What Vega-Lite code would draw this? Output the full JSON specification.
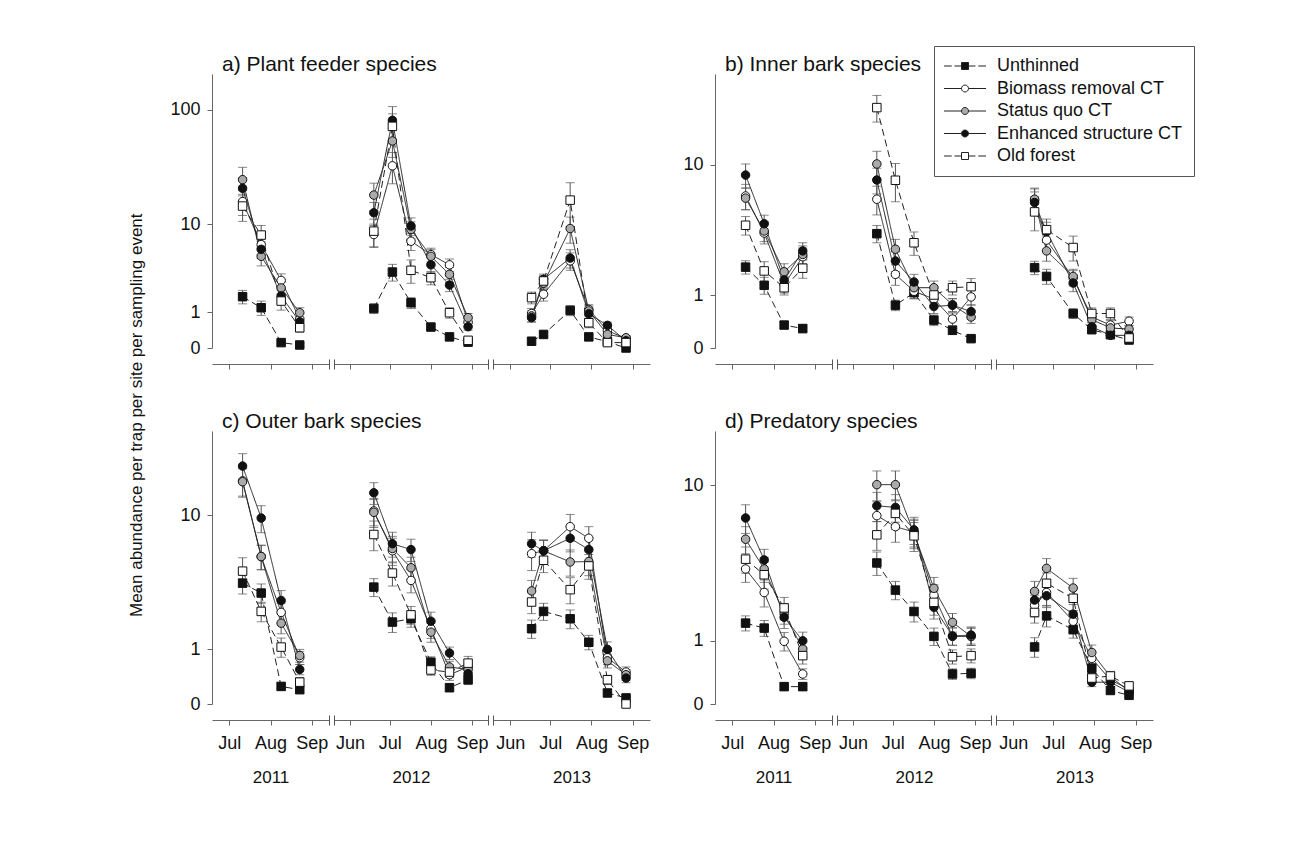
{
"$schema": "https://vega.github.io/schema/vega-lite/v6.json",
"padding": {"left": 127, "top": 45, "right": 5, "bottom": 5},
"background": "white",
"config": {
 "view": {"stroke": null},
 "font": "Liberation Sans",
 "axis": {"domainColor": "#666", "tickColor": "#666", "tickSize": 5, "labelFontSize": 18, "labelColor": "#111", "labelFont": "Liberation Sans", "titleFont": "Liberation Sans", "titleFontSize": 17, "titleFontWeight": "normal", "titleColor": "#111", "grid": false, "labelFlush": false, "labelOverlap": false, "labelPadding": 7},
 "title": {"font": "Liberation Sans", "fontWeight": "normal", "color": "#111"}
},
"datasets": {"d": [
{"p":"a","yr":2011,"d":192,"t":"U","m":1.7,"se":0.35},{"p":"a","yr":2011,"d":206,"t":"U","m":1.18,"se":0.3},{"p":"a","yr":2011,"d":221,"t":"U","m":0.11,"se":0.03},{"p":"a","yr":2011,"d":235,"t":"U","m":0.06,"se":0.03},
{"p":"a","yr":2011,"d":192,"t":"B","m":16,"se":4},{"p":"a","yr":2011,"d":206,"t":"B","m":6.4,"se":1.3},{"p":"a","yr":2011,"d":221,"t":"B","m":2.7,"se":0.5},{"p":"a","yr":2011,"d":235,"t":"B","m":0.75,"se":0.2},
{"p":"a","yr":2011,"d":192,"t":"S","m":25,"se":7},{"p":"a","yr":2011,"d":206,"t":"S","m":4.9,"se":1},{"p":"a","yr":2011,"d":221,"t":"S","m":2.2,"se":0.4},{"p":"a","yr":2011,"d":235,"t":"S","m":0.98,"se":0.2},
{"p":"a","yr":2011,"d":192,"t":"E","m":21,"se":5},{"p":"a","yr":2011,"d":206,"t":"E","m":5.75,"se":1.1},{"p":"a","yr":2011,"d":221,"t":"E","m":1.73,"se":0.35},{"p":"a","yr":2011,"d":235,"t":"E","m":0.66,"se":0.15},
{"p":"a","yr":2011,"d":192,"t":"O","m":14.6,"se":4},{"p":"a","yr":2011,"d":206,"t":"O","m":7.9,"se":1.8},{"p":"a","yr":2011,"d":221,"t":"O","m":1.48,"se":0.4},{"p":"a","yr":2011,"d":235,"t":"O","m":0.48,"se":0.12},
{"p":"a","yr":2012,"d":170,"t":"U","m":1.15,"se":0.2},{"p":"a","yr":2012,"d":184,"t":"U","m":3.35,"se":0.7},{"p":"a","yr":2012,"d":198,"t":"U","m":1.4,"se":0.25},{"p":"a","yr":2012,"d":213,"t":"U","m":0.5,"se":0.08},{"p":"a","yr":2012,"d":227,"t":"U","m":0.24,"se":0.05},{"p":"a","yr":2012,"d":241,"t":"U","m":0.12,"se":0.03},
{"p":"a","yr":2012,"d":170,"t":"B","m":8,"se":2},{"p":"a","yr":2012,"d":184,"t":"B","m":33,"se":10},{"p":"a","yr":2012,"d":198,"t":"B","m":6.9,"se":1.3},{"p":"a","yr":2012,"d":213,"t":"B","m":5.1,"se":0.8},{"p":"a","yr":2012,"d":227,"t":"B","m":4,"se":0.6},{"p":"a","yr":2012,"d":241,"t":"B","m":0.65,"se":0.12},
{"p":"a","yr":2012,"d":170,"t":"S","m":18.3,"se":5},{"p":"a","yr":2012,"d":184,"t":"S","m":54,"se":15},{"p":"a","yr":2012,"d":198,"t":"S","m":8.9,"se":1.6},{"p":"a","yr":2012,"d":213,"t":"S","m":4.9,"se":0.8},{"p":"a","yr":2012,"d":227,"t":"S","m":3.16,"se":0.6},{"p":"a","yr":2012,"d":241,"t":"S","m":0.8,"se":0.15},
{"p":"a","yr":2012,"d":170,"t":"E","m":12.7,"se":3},{"p":"a","yr":2012,"d":184,"t":"E","m":81,"se":25},{"p":"a","yr":2012,"d":198,"t":"E","m":9.6,"se":1.8},{"p":"a","yr":2012,"d":213,"t":"E","m":4,"se":0.7},{"p":"a","yr":2012,"d":227,"t":"E","m":2.38,"se":0.4},{"p":"a","yr":2012,"d":241,"t":"E","m":0.51,"se":0.1},
{"p":"a","yr":2012,"d":170,"t":"O","m":8.6,"se":2.5},{"p":"a","yr":2012,"d":184,"t":"O","m":72,"se":20},{"p":"a","yr":2012,"d":198,"t":"O","m":3.5,"se":1},{"p":"a","yr":2012,"d":213,"t":"O","m":2.9,"se":0.5},{"p":"a","yr":2012,"d":227,"t":"O","m":0.98,"se":0.2},{"p":"a","yr":2012,"d":241,"t":"O","m":0.16,"se":0.05},
{"p":"a","yr":2013,"d":168,"t":"U","m":0.14,"se":0.04},{"p":"a","yr":2013,"d":177,"t":"U","m":0.3,"se":0.05},{"p":"a","yr":2013,"d":197,"t":"U","m":1.07,"se":0.2},{"p":"a","yr":2013,"d":211,"t":"U","m":0.24,"se":0.05},{"p":"a","yr":2013,"d":225,"t":"U","m":0.13,"se":0.03},{"p":"a","yr":2013,"d":239,"t":"U","m":0,"se":0},
{"p":"a","yr":2013,"d":168,"t":"B","m":0.95,"se":0.2},{"p":"a","yr":2013,"d":177,"t":"B","m":1.83,"se":0.35},{"p":"a","yr":2013,"d":197,"t":"B","m":4.4,"se":0.9},{"p":"a","yr":2013,"d":211,"t":"B","m":1.11,"se":0.2},{"p":"a","yr":2013,"d":225,"t":"B","m":0.4,"se":0.08},{"p":"a","yr":2013,"d":239,"t":"B","m":0.2,"se":0.05},
{"p":"a","yr":2013,"d":168,"t":"S","m":0.86,"se":0.2},{"p":"a","yr":2013,"d":177,"t":"S","m":2.5,"se":0.4},{"p":"a","yr":2013,"d":197,"t":"S","m":9.1,"se":2.5},{"p":"a","yr":2013,"d":211,"t":"S","m":1.05,"se":0.2},{"p":"a","yr":2013,"d":225,"t":"S","m":0.3,"se":0.06},{"p":"a","yr":2013,"d":239,"t":"S","m":0.22,"se":0.05},
{"p":"a","yr":2013,"d":168,"t":"E","m":0.8,"se":0.15},{"p":"a","yr":2013,"d":177,"t":"E","m":2.78,"se":0.4},{"p":"a","yr":2013,"d":197,"t":"E","m":4.7,"se":1},{"p":"a","yr":2013,"d":211,"t":"E","m":0.94,"se":0.2},{"p":"a","yr":2013,"d":225,"t":"E","m":0.55,"se":0.1},{"p":"a","yr":2013,"d":239,"t":"E","m":0.15,"se":0.04},
{"p":"a","yr":2013,"d":168,"t":"O","m":1.65,"se":0.3},{"p":"a","yr":2013,"d":177,"t":"O","m":2.66,"se":0.4},{"p":"a","yr":2013,"d":197,"t":"O","m":16.5,"se":7},{"p":"a","yr":2013,"d":211,"t":"O","m":0.63,"se":0.15},{"p":"a","yr":2013,"d":225,"t":"O","m":0.11,"se":0.03},{"p":"a","yr":2013,"d":239,"t":"O","m":0.11,"se":0.03},

{"p":"b","yr":2011,"d":192,"t":"U","m":1.88,"se":0.25},{"p":"b","yr":2011,"d":206,"t":"U","m":1.27,"se":0.25},{"p":"b","yr":2011,"d":221,"t":"U","m":0.35,"se":0.06},{"p":"b","yr":2011,"d":235,"t":"U","m":0.29,"se":0.07},
{"p":"b","yr":2011,"d":192,"t":"B","m":6.3,"se":1.2},{"p":"b","yr":2011,"d":206,"t":"B","m":3.5,"se":0.6},{"p":"b","yr":2011,"d":221,"t":"B","m":1.3,"se":0.25},{"p":"b","yr":2011,"d":235,"t":"B","m":2.3,"se":0.4},
{"p":"b","yr":2011,"d":192,"t":"S","m":6.1,"se":1},{"p":"b","yr":2011,"d":206,"t":"S","m":3.62,"se":0.6},{"p":"b","yr":2011,"d":221,"t":"S","m":1.71,"se":0.3},{"p":"b","yr":2011,"d":235,"t":"S","m":2.4,"se":0.4},
{"p":"b","yr":2011,"d":192,"t":"E","m":8.6,"se":1.5},{"p":"b","yr":2011,"d":206,"t":"E","m":4.08,"se":0.6},{"p":"b","yr":2011,"d":221,"t":"E","m":1.43,"se":0.3},{"p":"b","yr":2011,"d":235,"t":"E","m":2.56,"se":0.4},
{"p":"b","yr":2011,"d":192,"t":"O","m":3.98,"se":0.6},{"p":"b","yr":2011,"d":206,"t":"O","m":1.74,"se":0.35},{"p":"b","yr":2011,"d":221,"t":"O","m":1.2,"se":0.2},{"p":"b","yr":2011,"d":235,"t":"O","m":1.84,"se":0.35},
{"p":"b","yr":2012,"d":170,"t":"U","m":3.46,"se":0.5},{"p":"b","yr":2012,"d":184,"t":"U","m":0.75,"se":0.12},{"p":"b","yr":2012,"d":198,"t":"U","m":1.06,"se":0.15},{"p":"b","yr":2012,"d":213,"t":"U","m":0.44,"se":0.1},{"p":"b","yr":2012,"d":227,"t":"U","m":0.26,"se":0.06},{"p":"b","yr":2012,"d":241,"t":"U","m":0.13,"se":0.03},
{"p":"b","yr":2012,"d":170,"t":"B","m":6,"se":1.3},{"p":"b","yr":2012,"d":184,"t":"B","m":1.62,"se":0.35},{"p":"b","yr":2012,"d":198,"t":"B","m":1.1,"se":0.2},{"p":"b","yr":2012,"d":213,"t":"B","m":0.9,"se":0.15},{"p":"b","yr":2012,"d":227,"t":"B","m":0.46,"se":0.12},{"p":"b","yr":2012,"d":241,"t":"B","m":0.95,"se":0.2},
{"p":"b","yr":2012,"d":170,"t":"S","m":10.1,"se":2},{"p":"b","yr":2012,"d":184,"t":"S","m":2.64,"se":0.5},{"p":"b","yr":2012,"d":198,"t":"S","m":1.2,"se":0.2},{"p":"b","yr":2012,"d":213,"t":"S","m":1.2,"se":0.2},{"p":"b","yr":2012,"d":227,"t":"S","m":0.76,"se":0.15},{"p":"b","yr":2012,"d":241,"t":"S","m":0.5,"se":0.12},
{"p":"b","yr":2012,"d":170,"t":"E","m":8,"se":1.5},{"p":"b","yr":2012,"d":184,"t":"E","m":2.12,"se":0.4},{"p":"b","yr":2012,"d":198,"t":"E","m":1.37,"se":0.25},{"p":"b","yr":2012,"d":213,"t":"E","m":0.72,"se":0.15},{"p":"b","yr":2012,"d":227,"t":"E","m":0.75,"se":0.15},{"p":"b","yr":2012,"d":241,"t":"E","m":0.61,"se":0.15},
{"p":"b","yr":2012,"d":170,"t":"O","m":22.2,"se":4},{"p":"b","yr":2012,"d":184,"t":"O","m":7.97,"se":2.2},{"p":"b","yr":2012,"d":198,"t":"O","m":2.96,"se":0.6},{"p":"b","yr":2012,"d":213,"t":"O","m":1,"se":0.2},{"p":"b","yr":2012,"d":227,"t":"O","m":1.2,"se":0.2},{"p":"b","yr":2012,"d":241,"t":"O","m":1.23,"se":0.25},
{"p":"b","yr":2013,"d":168,"t":"U","m":1.86,"se":0.25},{"p":"b","yr":2013,"d":177,"t":"U","m":1.55,"se":0.25},{"p":"b","yr":2013,"d":197,"t":"U","m":0.57,"se":0.1},{"p":"b","yr":2013,"d":211,"t":"U","m":0.27,"se":0.05},{"p":"b","yr":2013,"d":225,"t":"U","m":0.19,"se":0.05},{"p":"b","yr":2013,"d":239,"t":"U","m":0.11,"se":0.03},
{"p":"b","yr":2013,"d":168,"t":"B","m":5.9,"se":1.2},{"p":"b","yr":2013,"d":177,"t":"B","m":3.1,"se":0.5},{"p":"b","yr":2013,"d":197,"t":"B","m":1.5,"se":0.25},{"p":"b","yr":2013,"d":211,"t":"B","m":0.5,"se":0.1},{"p":"b","yr":2013,"d":225,"t":"B","m":0.35,"se":0.08},{"p":"b","yr":2013,"d":239,"t":"B","m":0.42,"se":0.08},
{"p":"b","yr":2013,"d":168,"t":"S","m":6,"se":1},{"p":"b","yr":2013,"d":177,"t":"S","m":2.56,"se":0.45},{"p":"b","yr":2013,"d":197,"t":"S","m":1.55,"se":0.25},{"p":"b","yr":2013,"d":211,"t":"S","m":0.45,"se":0.1},{"p":"b","yr":2013,"d":225,"t":"S","m":0.3,"se":0.07},{"p":"b","yr":2013,"d":239,"t":"S","m":0.28,"se":0.06},
{"p":"b","yr":2013,"d":168,"t":"E","m":5.7,"se":1},{"p":"b","yr":2013,"d":177,"t":"E","m":3.58,"se":0.6},{"p":"b","yr":2013,"d":197,"t":"E","m":1.34,"se":0.25},{"p":"b","yr":2013,"d":211,"t":"E","m":0.32,"se":0.07},{"p":"b","yr":2013,"d":225,"t":"E","m":0.18,"se":0.05},{"p":"b","yr":2013,"d":239,"t":"E","m":0.18,"se":0.05},
{"p":"b","yr":2013,"d":168,"t":"O","m":4.93,"se":1.3},{"p":"b","yr":2013,"d":177,"t":"O","m":3.7,"se":0.7},{"p":"b","yr":2013,"d":197,"t":"O","m":2.72,"se":0.6},{"p":"b","yr":2013,"d":211,"t":"O","m":0.57,"se":0.12},{"p":"b","yr":2013,"d":225,"t":"O","m":0.57,"se":0.12},{"p":"b","yr":2013,"d":239,"t":"O","m":0.14,"se":0.04},

{"p":"c","yr":2011,"d":192,"t":"U","m":3.64,"se":0.6},{"p":"c","yr":2011,"d":206,"t":"U","m":3.09,"se":0.5},{"p":"c","yr":2011,"d":221,"t":"U","m":0.25,"se":0.06},{"p":"c","yr":2011,"d":235,"t":"U","m":0.2,"se":0.06},
{"p":"c","yr":2011,"d":192,"t":"B","m":16,"se":3},{"p":"c","yr":2011,"d":206,"t":"B","m":5.5,"se":1},{"p":"c","yr":2011,"d":221,"t":"B","m":2.2,"se":0.4},{"p":"c","yr":2011,"d":235,"t":"B","m":0.8,"se":0.15},
{"p":"c","yr":2011,"d":192,"t":"S","m":15.8,"se":3},{"p":"c","yr":2011,"d":206,"t":"S","m":5.5,"se":1},{"p":"c","yr":2011,"d":221,"t":"S","m":1.79,"se":0.35},{"p":"c","yr":2011,"d":235,"t":"S","m":0.85,"se":0.15},
{"p":"c","yr":2011,"d":192,"t":"E","m":19.5,"se":3.5},{"p":"c","yr":2011,"d":206,"t":"E","m":9.6,"se":1.8},{"p":"c","yr":2011,"d":221,"t":"E","m":2.72,"se":0.5},{"p":"c","yr":2011,"d":235,"t":"E","m":0.55,"se":0.1},
{"p":"c","yr":2011,"d":192,"t":"O","m":4.4,"se":1},{"p":"c","yr":2011,"d":206,"t":"O","m":2.24,"se":0.4},{"p":"c","yr":2011,"d":221,"t":"O","m":1.06,"se":0.25},{"p":"c","yr":2011,"d":235,"t":"O","m":0.32,"se":0.08},
{"p":"c","yr":2012,"d":170,"t":"U","m":3.41,"se":0.5},{"p":"c","yr":2012,"d":184,"t":"U","m":1.83,"se":0.35},{"p":"c","yr":2012,"d":198,"t":"U","m":1.95,"se":0.3},{"p":"c","yr":2012,"d":213,"t":"U","m":0.7,"se":0.12},{"p":"c","yr":2012,"d":227,"t":"U","m":0.23,"se":0.06},{"p":"c","yr":2012,"d":241,"t":"U","m":0.36,"se":0.08},
{"p":"c","yr":2012,"d":170,"t":"B","m":10.6,"se":2},{"p":"c","yr":2012,"d":184,"t":"B","m":6,"se":1.2},{"p":"c","yr":2012,"d":198,"t":"B","m":3.8,"se":0.7},{"p":"c","yr":2012,"d":213,"t":"B","m":1.6,"se":0.3},{"p":"c","yr":2012,"d":227,"t":"B","m":0.45,"se":0.1},{"p":"c","yr":2012,"d":241,"t":"B","m":0.6,"se":0.12},
{"p":"c","yr":2012,"d":170,"t":"S","m":10.4,"se":2},{"p":"c","yr":2012,"d":184,"t":"S","m":6.2,"se":1.2},{"p":"c","yr":2012,"d":198,"t":"S","m":4.64,"se":0.8},{"p":"c","yr":2012,"d":213,"t":"S","m":1.49,"se":0.3},{"p":"c","yr":2012,"d":227,"t":"S","m":0.6,"se":0.12},{"p":"c","yr":2012,"d":241,"t":"S","m":0.55,"se":0.12},
{"p":"c","yr":2012,"d":170,"t":"E","m":13.6,"se":2},{"p":"c","yr":2012,"d":184,"t":"E","m":6.65,"se":1.2},{"p":"c","yr":2012,"d":198,"t":"E","m":6.1,"se":1},{"p":"c","yr":2012,"d":213,"t":"E","m":1.86,"se":0.35},{"p":"c","yr":2012,"d":227,"t":"E","m":0.91,"se":0.15},{"p":"c","yr":2012,"d":241,"t":"E","m":0.47,"se":0.1},
{"p":"c","yr":2012,"d":170,"t":"O","m":7.6,"se":1.6},{"p":"c","yr":2012,"d":184,"t":"O","m":4.27,"se":0.8},{"p":"c","yr":2012,"d":198,"t":"O","m":2.1,"se":0.35},{"p":"c","yr":2012,"d":213,"t":"O","m":0.54,"se":0.1},{"p":"c","yr":2012,"d":227,"t":"O","m":0.5,"se":0.1},{"p":"c","yr":2012,"d":241,"t":"O","m":0.68,"se":0.15},
{"p":"c","yr":2013,"d":168,"t":"U","m":1.6,"se":0.3},{"p":"c","yr":2013,"d":177,"t":"U","m":2.24,"se":0.35},{"p":"c","yr":2013,"d":197,"t":"U","m":1.95,"se":0.35},{"p":"c","yr":2013,"d":211,"t":"U","m":1.19,"se":0.2},{"p":"c","yr":2013,"d":225,"t":"U","m":0.15,"se":0.05},{"p":"c","yr":2013,"d":239,"t":"U","m":0.08,"se":0.03},
{"p":"c","yr":2013,"d":168,"t":"B","m":5.74,"se":1.3},{"p":"c","yr":2013,"d":177,"t":"B","m":6,"se":1},{"p":"c","yr":2013,"d":197,"t":"B","m":8.5,"se":1.6},{"p":"c","yr":2013,"d":211,"t":"B","m":7.2,"se":1.3},{"p":"c","yr":2013,"d":225,"t":"B","m":0.8,"se":0.15},{"p":"c","yr":2013,"d":239,"t":"B","m":0.5,"se":0.1},
{"p":"c","yr":2013,"d":168,"t":"S","m":3.2,"se":0.6},{"p":"c","yr":2013,"d":177,"t":"S","m":6,"se":1},{"p":"c","yr":2013,"d":197,"t":"S","m":5.07,"se":1},{"p":"c","yr":2013,"d":211,"t":"S","m":5.1,"se":1},{"p":"c","yr":2013,"d":225,"t":"S","m":0.73,"se":0.15},{"p":"c","yr":2013,"d":239,"t":"S","m":0.45,"se":0.1},
{"p":"c","yr":2013,"d":168,"t":"E","m":6.65,"se":1.2},{"p":"c","yr":2013,"d":177,"t":"E","m":6,"se":1},{"p":"c","yr":2013,"d":197,"t":"E","m":7.2,"se":1.3},{"p":"c","yr":2013,"d":211,"t":"E","m":6.1,"se":1.1},{"p":"c","yr":2013,"d":225,"t":"E","m":1,"se":0.2},{"p":"c","yr":2013,"d":239,"t":"E","m":0.39,"se":0.08},
{"p":"c","yr":2013,"d":168,"t":"O","m":2.65,"se":0.5},{"p":"c","yr":2013,"d":177,"t":"O","m":5.2,"se":0.9},{"p":"c","yr":2013,"d":197,"t":"O","m":3.27,"se":0.7},{"p":"c","yr":2013,"d":211,"t":"O","m":4.77,"se":0.9},{"p":"c","yr":2013,"d":225,"t":"O","m":0.36,"se":0.08},{"p":"c","yr":2013,"d":239,"t":"O","m":0,"se":0},

{"p":"d","yr":2011,"d":192,"t":"U","m":1.43,"se":0.2},{"p":"d","yr":2011,"d":206,"t":"U","m":1.3,"se":0.2},{"p":"d","yr":2011,"d":221,"t":"U","m":0.21,"se":0.05},{"p":"d","yr":2011,"d":235,"t":"U","m":0.21,"se":0.05},
{"p":"d","yr":2011,"d":192,"t":"B","m":3.4,"se":0.6},{"p":"d","yr":2011,"d":206,"t":"B","m":2.4,"se":0.5},{"p":"d","yr":2011,"d":221,"t":"B","m":0.99,"se":0.2},{"p":"d","yr":2011,"d":235,"t":"B","m":0.39,"se":0.08},
{"p":"d","yr":2011,"d":192,"t":"S","m":5.1,"se":0.9},{"p":"d","yr":2011,"d":206,"t":"S","m":3.4,"se":0.6},{"p":"d","yr":2011,"d":221,"t":"S","m":1.7,"se":0.3},{"p":"d","yr":2011,"d":235,"t":"S","m":0.83,"se":0.15},
{"p":"d","yr":2011,"d":192,"t":"E","m":6.7,"se":1.2},{"p":"d","yr":2011,"d":206,"t":"E","m":3.86,"se":0.6},{"p":"d","yr":2011,"d":221,"t":"E","m":1.59,"se":0.3},{"p":"d","yr":2011,"d":235,"t":"E","m":1,"se":0.2},
{"p":"d","yr":2011,"d":192,"t":"O","m":3.9,"se":0.7},{"p":"d","yr":2011,"d":206,"t":"O","m":3.13,"se":0.6},{"p":"d","yr":2011,"d":221,"t":"O","m":1.87,"se":0.35},{"p":"d","yr":2011,"d":235,"t":"O","m":0.7,"se":0.15},
{"p":"d","yr":2012,"d":170,"t":"U","m":3.7,"se":0.6},{"p":"d","yr":2012,"d":184,"t":"U","m":2.49,"se":0.35},{"p":"d","yr":2012,"d":198,"t":"U","m":1.76,"se":0.3},{"p":"d","yr":2012,"d":213,"t":"U","m":1.1,"se":0.2},{"p":"d","yr":2012,"d":227,"t":"U","m":0.39,"se":0.08},{"p":"d","yr":2012,"d":241,"t":"U","m":0.4,"se":0.08},
{"p":"d","yr":2012,"d":170,"t":"B","m":6.9,"se":1.3},{"p":"d","yr":2012,"d":184,"t":"B","m":6,"se":1.1},{"p":"d","yr":2012,"d":198,"t":"B","m":5.6,"se":1},{"p":"d","yr":2012,"d":213,"t":"B","m":2.3,"se":0.4},{"p":"d","yr":2012,"d":227,"t":"B","m":1.1,"se":0.2},{"p":"d","yr":2012,"d":241,"t":"B","m":1.1,"se":0.2},
{"p":"d","yr":2012,"d":170,"t":"S","m":10.1,"se":1.8},{"p":"d","yr":2012,"d":184,"t":"S","m":10.1,"se":1.8},{"p":"d","yr":2012,"d":198,"t":"S","m":5.5,"se":1},{"p":"d","yr":2012,"d":213,"t":"S","m":2.56,"se":0.45},{"p":"d","yr":2012,"d":227,"t":"S","m":1.45,"se":0.25},{"p":"d","yr":2012,"d":241,"t":"S","m":1.1,"se":0.2},
{"p":"d","yr":2012,"d":170,"t":"E","m":7.8,"se":1.4},{"p":"d","yr":2012,"d":184,"t":"E","m":7.65,"se":1.3},{"p":"d","yr":2012,"d":198,"t":"E","m":5.76,"se":1},{"p":"d","yr":2012,"d":213,"t":"E","m":1.89,"se":0.35},{"p":"d","yr":2012,"d":227,"t":"E","m":1.11,"se":0.2},{"p":"d","yr":2012,"d":241,"t":"E","m":1.13,"se":0.2},
{"p":"d","yr":2012,"d":170,"t":"O","m":5.4,"se":1},{"p":"d","yr":2012,"d":184,"t":"O","m":7.1,"se":1.3},{"p":"d","yr":2012,"d":198,"t":"O","m":5.33,"se":1},{"p":"d","yr":2012,"d":213,"t":"O","m":2.05,"se":0.4},{"p":"d","yr":2012,"d":227,"t":"O","m":0.68,"se":0.13},{"p":"d","yr":2012,"d":241,"t":"O","m":0.7,"se":0.13},
{"p":"d","yr":2013,"d":168,"t":"U","m":0.87,"se":0.2},{"p":"d","yr":2013,"d":177,"t":"U","m":1.63,"se":0.3},{"p":"d","yr":2013,"d":197,"t":"U","m":1.26,"se":0.2},{"p":"d","yr":2013,"d":211,"t":"U","m":0.48,"se":0.08},{"p":"d","yr":2013,"d":225,"t":"U","m":0.16,"se":0.04},{"p":"d","yr":2013,"d":239,"t":"U","m":0.1,"se":0.03},
{"p":"d","yr":2013,"d":168,"t":"B","m":1.95,"se":0.35},{"p":"d","yr":2013,"d":177,"t":"B","m":2.4,"se":0.45},{"p":"d","yr":2013,"d":197,"t":"B","m":1.48,"se":0.3},{"p":"d","yr":2013,"d":211,"t":"B","m":0.65,"se":0.12},{"p":"d","yr":2013,"d":225,"t":"B","m":0.3,"se":0.06},{"p":"d","yr":2013,"d":239,"t":"B","m":0.18,"se":0.05},
{"p":"d","yr":2013,"d":168,"t":"S","m":2.44,"se":0.4},{"p":"d","yr":2013,"d":177,"t":"S","m":3.43,"se":0.5},{"p":"d","yr":2013,"d":197,"t":"S","m":2.57,"se":0.4},{"p":"d","yr":2013,"d":211,"t":"S","m":0.76,"se":0.15},{"p":"d","yr":2013,"d":225,"t":"S","m":0.35,"se":0.07},{"p":"d","yr":2013,"d":239,"t":"S","m":0.15,"se":0.04},
{"p":"d","yr":2013,"d":168,"t":"E","m":2.13,"se":0.35},{"p":"d","yr":2013,"d":177,"t":"E","m":2.28,"se":0.4},{"p":"d","yr":2013,"d":197,"t":"E","m":1.68,"se":0.3},{"p":"d","yr":2013,"d":211,"t":"E","m":0.27,"se":0.06},{"p":"d","yr":2013,"d":225,"t":"E","m":0.27,"se":0.06},{"p":"d","yr":2013,"d":239,"t":"E","m":0.14,"se":0.04},
{"p":"d","yr":2013,"d":168,"t":"O","m":1.73,"se":0.3},{"p":"d","yr":2013,"d":177,"t":"O","m":2.76,"se":0.45},{"p":"d","yr":2013,"d":197,"t":"O","m":2.19,"se":0.4},{"p":"d","yr":2013,"d":211,"t":"O","m":0.33,"se":0.07},{"p":"d","yr":2013,"d":225,"t":"O","m":0.36,"se":0.07},{"p":"d","yr":2013,"d":239,"t":"O","m":0.22,"se":0.05}
]},
"data": {"name": "d"},
"title": {"text": "Mean abundance per trap per site per sampling event", "orient": "left", "anchor": "middle", "fontSize": 17, "offset": 22},
"spacing": 41,
"vconcat": [
{"spacing": 21, "hconcat": [
 {"title": {"text": "a) Plant feeder species", "anchor": "start", "dx": 54, "fontSize": 21, "offset": -1}, "spacing": 3, "hconcat": [
  {"width": 117, "height": 274, "transform": [{"filter": "datum.p=='a' && datum.yr==2011"}], "resolve": {"axis": {"x": "independent"}},
   "encoding": {"y": {"field": "m", "type": "quantitative", "scale": {"type": "symlog", "constant": 1, "domain": [0, 200], "nice": false, "zero": false}, "axis": {"values": [0, 1, 10, 100], "format": "d", "title": null, "minExtent": 44, "maxExtent": 44}}},
   "layer": [
    {"mark": {"type": "errorbar", "ticks": true, "size": 9, "thickness": 1, "color": "#555"}, "encoding": {"x": {"field": "d", "type": "quantitative", "scale": {"domain": [169, 257], "nice": false, "zero": false}, "axis": {"orient": "bottom", "values": [182, 213, 244], "labels": false, "title": null, "offset": 16}}, "yError": {"field": "se"}}},
    {"mark": {"type": "line", "color": "#222", "strokeWidth": 1}, "encoding": {"x": {"field": "d", "type": "quantitative", "axis": null}, "detail": {"field": "t"}, "strokeDash": {"field": "t", "type": "nominal", "scale": {"domain": ["U","B","S","E","O"], "range": [[7,4],[1,0],[1,0],[1,0],[7,4]]}, "legend": null}}},
    {"mark": {"type": "point", "filled": true, "size": 72, "stroke": "#111", "strokeWidth": 1, "opacity": 1},
     "encoding": {"x": {"field": "d", "type": "quantitative", "axis": null},
      "shape": {"field": "t", "type": "nominal", "scale": {"domain": ["U","B","S","E","O","Unthinned","Biomass removal CT","Status quo CT","Enhanced structure CT","Old forest"], "range": ["square","circle","circle","circle","square","M-6,0H-3.8M-3,0H-1M1,0H3M3.8,0H6M-1,-1H1V1H-1Z","M-6,0H-1M1,0H6M-1,0A1,1,0,1,0,1,0A1,1,0,1,0,-1,0Z","M-6,0H-1M1,0H6M-1,0A1,1,0,1,0,1,0A1,1,0,1,0,-1,0Z","M-6,0H-1M1,0H6M-1,0A1,1,0,1,0,1,0A1,1,0,1,0,-1,0Z","M-6,0H-3.8M-3,0H-1M1,0H3M3.8,0H6M-1,-1H1V1H-1Z"]},
       "legend": {"values": ["Unthinned","Biomass removal CT","Status quo CT","Enhanced structure CT","Old forest"], "title": null, "orient": "none", "legendX": 722, "legendY": -28, "symbolSize": 49, "symbolOffset": 11, "labelOffset": 23, "labelFontSize": 18, "labelFont": "Liberation Sans", "labelColor": "#111", "labelLimit": 400, "rowPadding": 4.5, "padding": 11, "strokeColor": "#555", "fillColor": "white", "symbolStrokeWidth": 1, "symbolStrokeColor": "#111"}},
      "fill": {"field": "t", "type": "nominal", "scale": {"domain": ["U","B","S","E","O","Unthinned","Biomass removal CT","Status quo CT","Enhanced structure CT","Old forest"], "range": ["#111","#fff","#aaa","#111","#fff","#111","#fff","#aaa","#111","#fff"]},
       "legend": {"values": ["Unthinned","Biomass removal CT","Status quo CT","Enhanced structure CT","Old forest"], "title": null, "orient": "none", "legendX": 722, "legendY": -28, "symbolSize": 49, "symbolOffset": 11, "labelOffset": 23, "labelFontSize": 18, "labelFont": "Liberation Sans", "labelColor": "#111", "labelLimit": 400, "rowPadding": 4.5, "padding": 11, "strokeColor": "#555", "fillColor": "white", "symbolStrokeWidth": 1, "symbolStrokeColor": "#111"}},
      "stroke": {"field": "t", "type": "nominal", "scale": {"domain": ["U","B","S","E","O","Unthinned","Biomass removal CT","Status quo CT","Enhanced structure CT","Old forest"], "range": ["#111","#111","#111","#111","#111","#222","#222","#222","#222","#222"]},
       "legend": {"values": ["Unthinned","Biomass removal CT","Status quo CT","Enhanced structure CT","Old forest"], "title": null, "orient": "none", "legendX": 722, "legendY": -28, "symbolSize": 49, "symbolOffset": 11, "labelOffset": 23, "labelFontSize": 18, "labelFont": "Liberation Sans", "labelColor": "#111", "labelLimit": 400, "rowPadding": 4.5, "padding": 11, "strokeColor": "#555", "fillColor": "white", "symbolStrokeWidth": 1, "symbolStrokeColor": "#111"}}}},
    {"mark": {"type": "point", "opacity": 0}, "encoding": {"x": {"field": "d", "type": "quantitative", "axis": {"orient": "bottom", "offset": 11, "values": [257], "domain": false, "labels": false, "tickSize": 10, "tickColor": "#555", "title": null}}}}
   ]},
  {"width": 154, "height": 274, "transform": [{"filter": "datum.p=='a' && datum.yr==2012"}], "resolve": {"axis": {"x": "independent"}},
   "encoding": {"y": {"field": "m", "type": "quantitative", "scale": {"type": "symlog", "constant": 1, "domain": [0, 200], "nice": false, "zero": false}, "axis": null}},
   "layer": [
    {"mark": {"type": "errorbar", "ticks": true, "size": 9, "thickness": 1, "color": "#555"}, "encoding": {"x": {"field": "d", "type": "quantitative", "scale": {"domain": [140, 256], "nice": false, "zero": false}, "axis": {"orient": "bottom", "values": [152, 182, 213, 244], "labels": false, "title": null, "offset": 16}}, "yError": {"field": "se"}}},
    {"mark": {"type": "line", "color": "#222", "strokeWidth": 1}, "encoding": {"x": {"field": "d", "type": "quantitative", "axis": null}, "detail": {"field": "t"}, "strokeDash": {"field": "t", "type": "nominal", "legend": null}}},
    {"mark": {"type": "point", "filled": true, "size": 72, "stroke": "#111", "strokeWidth": 1, "opacity": 1}, "encoding": {"x": {"field": "d", "type": "quantitative", "axis": null}, "shape": {"field": "t", "type": "nominal", "legend": null}, "fill": {"field": "t", "type": "nominal", "legend": null}}},
    {"mark": {"type": "point", "opacity": 0}, "encoding": {"x": {"field": "d", "type": "quantitative", "axis": {"orient": "bottom", "offset": 11, "values": [140, 256], "domain": false, "labels": false, "tickSize": 10, "tickColor": "#555", "title": null}}}}
   ]},
  {"width": 157, "height": 274, "transform": [{"filter": "datum.p=='a' && datum.yr==2013"}], "resolve": {"axis": {"x": "independent"}},
   "encoding": {"y": {"field": "m", "type": "quantitative", "scale": {"type": "symlog", "constant": 1, "domain": [0, 200], "nice": false, "zero": false}, "axis": null}},
   "layer": [
    {"mark": {"type": "errorbar", "ticks": true, "size": 9, "thickness": 1, "color": "#555"}, "encoding": {"x": {"field": "d", "type": "quantitative", "scale": {"domain": [139, 257], "nice": false, "zero": false}, "axis": {"orient": "bottom", "values": [152, 182, 213, 244], "labels": false, "title": null, "offset": 16}}, "yError": {"field": "se"}}},
    {"mark": {"type": "line", "color": "#222", "strokeWidth": 1}, "encoding": {"x": {"field": "d", "type": "quantitative", "axis": null}, "detail": {"field": "t"}, "strokeDash": {"field": "t", "type": "nominal", "legend": null}}},
    {"mark": {"type": "point", "filled": true, "size": 72, "stroke": "#111", "strokeWidth": 1, "opacity": 1}, "encoding": {"x": {"field": "d", "type": "quantitative", "axis": null}, "shape": {"field": "t", "type": "nominal", "legend": null}, "fill": {"field": "t", "type": "nominal", "legend": null}}},
    {"mark": {"type": "point", "opacity": 0}, "encoding": {"x": {"field": "d", "type": "quantitative", "axis": {"orient": "bottom", "offset": 11, "values": [139], "domain": false, "labels": false, "tickSize": 10, "tickColor": "#555", "title": null}}}}
   ]}
 ]},
 {"title": {"text": "b) Inner bark species", "anchor": "start", "dx": 54, "fontSize": 21, "offset": -1}, "spacing": 3, "hconcat": [
  {"width": 117, "height": 274, "transform": [{"filter": "datum.p=='b' && datum.yr==2011"}], "resolve": {"axis": {"x": "independent"}},
   "encoding": {"y": {"field": "m", "type": "quantitative", "scale": {"type": "symlog", "constant": 1, "domain": [0, 35], "nice": false, "zero": false}, "axis": {"values": [0, 1, 10], "format": "d", "title": null, "minExtent": 44, "maxExtent": 44}}},
   "layer": [
    {"mark": {"type": "errorbar", "ticks": true, "size": 9, "thickness": 1, "color": "#555"}, "encoding": {"x": {"field": "d", "type": "quantitative", "scale": {"domain": [169, 257], "nice": false, "zero": false}, "axis": {"orient": "bottom", "values": [182, 213, 244], "labels": false, "title": null, "offset": 16}}, "yError": {"field": "se"}}},
    {"mark": {"type": "line", "color": "#222", "strokeWidth": 1}, "encoding": {"x": {"field": "d", "type": "quantitative", "axis": null}, "detail": {"field": "t"}, "strokeDash": {"field": "t", "type": "nominal", "legend": null}}},
    {"mark": {"type": "point", "filled": true, "size": 72, "stroke": "#111", "strokeWidth": 1, "opacity": 1}, "encoding": {"x": {"field": "d", "type": "quantitative", "axis": null}, "shape": {"field": "t", "type": "nominal", "legend": null}, "fill": {"field": "t", "type": "nominal", "legend": null}}},
    {"mark": {"type": "point", "opacity": 0}, "encoding": {"x": {"field": "d", "type": "quantitative", "axis": {"orient": "bottom", "offset": 11, "values": [257], "domain": false, "labels": false, "tickSize": 10, "tickColor": "#555", "title": null}}}}
   ]},
  {"width": 154, "height": 274, "transform": [{"filter": "datum.p=='b' && datum.yr==2012"}], "resolve": {"axis": {"x": "independent"}},
   "encoding": {"y": {"field": "m", "type": "quantitative", "scale": {"type": "symlog", "constant": 1, "domain": [0, 35], "nice": false, "zero": false}, "axis": null}},
   "layer": [
    {"mark": {"type": "errorbar", "ticks": true, "size": 9, "thickness": 1, "color": "#555"}, "encoding": {"x": {"field": "d", "type": "quantitative", "scale": {"domain": [140, 256], "nice": false, "zero": false}, "axis": {"orient": "bottom", "values": [152, 182, 213, 244], "labels": false, "title": null, "offset": 16}}, "yError": {"field": "se"}}},
    {"mark": {"type": "line", "color": "#222", "strokeWidth": 1}, "encoding": {"x": {"field": "d", "type": "quantitative", "axis": null}, "detail": {"field": "t"}, "strokeDash": {"field": "t", "type": "nominal", "legend": null}}},
    {"mark": {"type": "point", "filled": true, "size": 72, "stroke": "#111", "strokeWidth": 1, "opacity": 1}, "encoding": {"x": {"field": "d", "type": "quantitative", "axis": null}, "shape": {"field": "t", "type": "nominal", "legend": null}, "fill": {"field": "t", "type": "nominal", "legend": null}}},
    {"mark": {"type": "point", "opacity": 0}, "encoding": {"x": {"field": "d", "type": "quantitative", "axis": {"orient": "bottom", "offset": 11, "values": [140, 256], "domain": false, "labels": false, "tickSize": 10, "tickColor": "#555", "title": null}}}}
   ]},
  {"width": 157, "height": 274, "transform": [{"filter": "datum.p=='b' && datum.yr==2013"}], "resolve": {"axis": {"x": "independent"}},
   "encoding": {"y": {"field": "m", "type": "quantitative", "scale": {"type": "symlog", "constant": 1, "domain": [0, 35], "nice": false, "zero": false}, "axis": null}},
   "layer": [
    {"mark": {"type": "errorbar", "ticks": true, "size": 9, "thickness": 1, "color": "#555"}, "encoding": {"x": {"field": "d", "type": "quantitative", "scale": {"domain": [139, 257], "nice": false, "zero": false}, "axis": {"orient": "bottom", "values": [152, 182, 213, 244], "labels": false, "title": null, "offset": 16}}, "yError": {"field": "se"}}},
    {"mark": {"type": "line", "color": "#222", "strokeWidth": 1}, "encoding": {"x": {"field": "d", "type": "quantitative", "axis": null}, "detail": {"field": "t"}, "strokeDash": {"field": "t", "type": "nominal", "legend": null}}},
    {"mark": {"type": "point", "filled": true, "size": 72, "stroke": "#111", "strokeWidth": 1, "opacity": 1}, "encoding": {"x": {"field": "d", "type": "quantitative", "axis": null}, "shape": {"field": "t", "type": "nominal", "legend": null}, "fill": {"field": "t", "type": "nominal", "legend": null}}},
    {"mark": {"type": "point", "opacity": 0}, "encoding": {"x": {"field": "d", "type": "quantitative", "axis": {"orient": "bottom", "offset": 11, "values": [139], "domain": false, "labels": false, "tickSize": 10, "tickColor": "#555", "title": null}}}}
   ]}
 ]}
]},
{"spacing": 21, "hconcat": [
 {"title": {"text": "c) Outer bark species", "anchor": "start", "dx": 54, "fontSize": 21, "offset": -1}, "spacing": 3, "hconcat": [
  {"width": 117, "height": 273, "transform": [{"filter": "datum.p=='c' && datum.yr==2011"}], "resolve": {"axis": {"x": "independent"}},
   "encoding": {"y": {"field": "m", "type": "quantitative", "scale": {"type": "symlog", "constant": 1, "domain": [0, 31], "nice": false, "zero": false}, "axis": {"values": [0, 1, 10], "format": "d", "title": null, "minExtent": 44, "maxExtent": 44}}},
   "layer": [
    {"mark": {"type": "errorbar", "ticks": true, "size": 9, "thickness": 1, "color": "#555"}, "encoding": {"x": {"field": "d", "type": "quantitative", "scale": {"domain": [169, 257], "nice": false, "zero": false}, "axis": {"orient": "bottom", "values": [182, 213, 244], "labelExpr": "datum.value==152?'Jun':datum.value==182?'Jul':datum.value==213?'Aug':'Sep'", "labelPadding": 9, "title": "2011", "titlePadding": 17, "offset": 16}}, "yError": {"field": "se"}}},
    {"mark": {"type": "line", "color": "#222", "strokeWidth": 1}, "encoding": {"x": {"field": "d", "type": "quantitative", "axis": null}, "detail": {"field": "t"}, "strokeDash": {"field": "t", "type": "nominal", "legend": null}}},
    {"mark": {"type": "point", "filled": true, "size": 72, "stroke": "#111", "strokeWidth": 1, "opacity": 1}, "encoding": {"x": {"field": "d", "type": "quantitative", "axis": null}, "shape": {"field": "t", "type": "nominal", "legend": null}, "fill": {"field": "t", "type": "nominal", "legend": null}}},
    {"mark": {"type": "point", "opacity": 0}, "encoding": {"x": {"field": "d", "type": "quantitative", "axis": {"orient": "bottom", "offset": 11, "values": [257], "domain": false, "labels": false, "tickSize": 10, "tickColor": "#555", "title": null}}}}
   ]},
  {"width": 154, "height": 273, "transform": [{"filter": "datum.p=='c' && datum.yr==2012"}], "resolve": {"axis": {"x": "independent"}},
   "encoding": {"y": {"field": "m", "type": "quantitative", "scale": {"type": "symlog", "constant": 1, "domain": [0, 31], "nice": false, "zero": false}, "axis": null}},
   "layer": [
    {"mark": {"type": "errorbar", "ticks": true, "size": 9, "thickness": 1, "color": "#555"}, "encoding": {"x": {"field": "d", "type": "quantitative", "scale": {"domain": [140, 256], "nice": false, "zero": false}, "axis": {"orient": "bottom", "values": [152, 182, 213, 244], "labelExpr": "datum.value==152?'Jun':datum.value==182?'Jul':datum.value==213?'Aug':'Sep'", "labelPadding": 9, "title": "2012", "titlePadding": 17, "offset": 16}}, "yError": {"field": "se"}}},
    {"mark": {"type": "line", "color": "#222", "strokeWidth": 1}, "encoding": {"x": {"field": "d", "type": "quantitative", "axis": null}, "detail": {"field": "t"}, "strokeDash": {"field": "t", "type": "nominal", "legend": null}}},
    {"mark": {"type": "point", "filled": true, "size": 72, "stroke": "#111", "strokeWidth": 1, "opacity": 1}, "encoding": {"x": {"field": "d", "type": "quantitative", "axis": null}, "shape": {"field": "t", "type": "nominal", "legend": null}, "fill": {"field": "t", "type": "nominal", "legend": null}}},
    {"mark": {"type": "point", "opacity": 0}, "encoding": {"x": {"field": "d", "type": "quantitative", "axis": {"orient": "bottom", "offset": 11, "values": [140, 256], "domain": false, "labels": false, "tickSize": 10, "tickColor": "#555", "title": null}}}}
   ]},
  {"width": 157, "height": 273, "transform": [{"filter": "datum.p=='c' && datum.yr==2013"}], "resolve": {"axis": {"x": "independent"}},
   "encoding": {"y": {"field": "m", "type": "quantitative", "scale": {"type": "symlog", "constant": 1, "domain": [0, 31], "nice": false, "zero": false}, "axis": null}},
   "layer": [
    {"mark": {"type": "errorbar", "ticks": true, "size": 9, "thickness": 1, "color": "#555"}, "encoding": {"x": {"field": "d", "type": "quantitative", "scale": {"domain": [139, 257], "nice": false, "zero": false}, "axis": {"orient": "bottom", "values": [152, 182, 213, 244], "labelExpr": "datum.value==152?'Jun':datum.value==182?'Jul':datum.value==213?'Aug':'Sep'", "labelPadding": 9, "title": "2013", "titlePadding": 17, "offset": 16}}, "yError": {"field": "se"}}},
    {"mark": {"type": "line", "color": "#222", "strokeWidth": 1}, "encoding": {"x": {"field": "d", "type": "quantitative", "axis": null}, "detail": {"field": "t"}, "strokeDash": {"field": "t", "type": "nominal", "legend": null}}},
    {"mark": {"type": "point", "filled": true, "size": 72, "stroke": "#111", "strokeWidth": 1, "opacity": 1}, "encoding": {"x": {"field": "d", "type": "quantitative", "axis": null}, "shape": {"field": "t", "type": "nominal", "legend": null}, "fill": {"field": "t", "type": "nominal", "legend": null}}},
    {"mark": {"type": "point", "opacity": 0}, "encoding": {"x": {"field": "d", "type": "quantitative", "axis": {"orient": "bottom", "offset": 11, "values": [139], "domain": false, "labels": false, "tickSize": 10, "tickColor": "#555", "title": null}}}}
   ]}
 ]},
 {"title": {"text": "d) Predatory species", "anchor": "start", "dx": 54, "fontSize": 21, "offset": -1}, "spacing": 3, "hconcat": [
  {"width": 117, "height": 273, "transform": [{"filter": "datum.p=='d' && datum.yr==2011"}], "resolve": {"axis": {"x": "independent"}},
   "encoding": {"y": {"field": "m", "type": "quantitative", "scale": {"type": "symlog", "constant": 1, "domain": [0, 19], "nice": false, "zero": false}, "axis": {"values": [0, 1, 10], "format": "d", "title": null, "minExtent": 44, "maxExtent": 44}}},
   "layer": [
    {"mark": {"type": "errorbar", "ticks": true, "size": 9, "thickness": 1, "color": "#555"}, "encoding": {"x": {"field": "d", "type": "quantitative", "scale": {"domain": [169, 257], "nice": false, "zero": false}, "axis": {"orient": "bottom", "values": [182, 213, 244], "labelExpr": "datum.value==152?'Jun':datum.value==182?'Jul':datum.value==213?'Aug':'Sep'", "labelPadding": 9, "title": "2011", "titlePadding": 17, "offset": 16}}, "yError": {"field": "se"}}},
    {"mark": {"type": "line", "color": "#222", "strokeWidth": 1}, "encoding": {"x": {"field": "d", "type": "quantitative", "axis": null}, "detail": {"field": "t"}, "strokeDash": {"field": "t", "type": "nominal", "legend": null}}},
    {"mark": {"type": "point", "filled": true, "size": 72, "stroke": "#111", "strokeWidth": 1, "opacity": 1}, "encoding": {"x": {"field": "d", "type": "quantitative", "axis": null}, "shape": {"field": "t", "type": "nominal", "legend": null}, "fill": {"field": "t", "type": "nominal", "legend": null}}},
    {"mark": {"type": "point", "opacity": 0}, "encoding": {"x": {"field": "d", "type": "quantitative", "axis": {"orient": "bottom", "offset": 11, "values": [257], "domain": false, "labels": false, "tickSize": 10, "tickColor": "#555", "title": null}}}}
   ]},
  {"width": 154, "height": 273, "transform": [{"filter": "datum.p=='d' && datum.yr==2012"}], "resolve": {"axis": {"x": "independent"}},
   "encoding": {"y": {"field": "m", "type": "quantitative", "scale": {"type": "symlog", "constant": 1, "domain": [0, 19], "nice": false, "zero": false}, "axis": null}},
   "layer": [
    {"mark": {"type": "errorbar", "ticks": true, "size": 9, "thickness": 1, "color": "#555"}, "encoding": {"x": {"field": "d", "type": "quantitative", "scale": {"domain": [140, 256], "nice": false, "zero": false}, "axis": {"orient": "bottom", "values": [152, 182, 213, 244], "labelExpr": "datum.value==152?'Jun':datum.value==182?'Jul':datum.value==213?'Aug':'Sep'", "labelPadding": 9, "title": "2012", "titlePadding": 17, "offset": 16}}, "yError": {"field": "se"}}},
    {"mark": {"type": "line", "color": "#222", "strokeWidth": 1}, "encoding": {"x": {"field": "d", "type": "quantitative", "axis": null}, "detail": {"field": "t"}, "strokeDash": {"field": "t", "type": "nominal", "legend": null}}},
    {"mark": {"type": "point", "filled": true, "size": 72, "stroke": "#111", "strokeWidth": 1, "opacity": 1}, "encoding": {"x": {"field": "d", "type": "quantitative", "axis": null}, "shape": {"field": "t", "type": "nominal", "legend": null}, "fill": {"field": "t", "type": "nominal", "legend": null}}},
    {"mark": {"type": "point", "opacity": 0}, "encoding": {"x": {"field": "d", "type": "quantitative", "axis": {"orient": "bottom", "offset": 11, "values": [140, 256], "domain": false, "labels": false, "tickSize": 10, "tickColor": "#555", "title": null}}}}
   ]},
  {"width": 157, "height": 273, "transform": [{"filter": "datum.p=='d' && datum.yr==2013"}], "resolve": {"axis": {"x": "independent"}},
   "encoding": {"y": {"field": "m", "type": "quantitative", "scale": {"type": "symlog", "constant": 1, "domain": [0, 19], "nice": false, "zero": false}, "axis": null}},
   "layer": [
    {"mark": {"type": "errorbar", "ticks": true, "size": 9, "thickness": 1, "color": "#555"}, "encoding": {"x": {"field": "d", "type": "quantitative", "scale": {"domain": [139, 257], "nice": false, "zero": false}, "axis": {"orient": "bottom", "values": [152, 182, 213, 244], "labelExpr": "datum.value==152?'Jun':datum.value==182?'Jul':datum.value==213?'Aug':'Sep'", "labelPadding": 9, "title": "2013", "titlePadding": 17, "offset": 16}}, "yError": {"field": "se"}}},
    {"mark": {"type": "line", "color": "#222", "strokeWidth": 1}, "encoding": {"x": {"field": "d", "type": "quantitative", "axis": null}, "detail": {"field": "t"}, "strokeDash": {"field": "t", "type": "nominal", "legend": null}}},
    {"mark": {"type": "point", "filled": true, "size": 72, "stroke": "#111", "strokeWidth": 1, "opacity": 1}, "encoding": {"x": {"field": "d", "type": "quantitative", "axis": null}, "shape": {"field": "t", "type": "nominal", "legend": null}, "fill": {"field": "t", "type": "nominal", "legend": null}}},
    {"mark": {"type": "point", "opacity": 0}, "encoding": {"x": {"field": "d", "type": "quantitative", "axis": {"orient": "bottom", "offset": 11, "values": [139], "domain": false, "labels": false, "tickSize": 10, "tickColor": "#555", "title": null}}}}
   ]}
 ]}
]}
]
}
